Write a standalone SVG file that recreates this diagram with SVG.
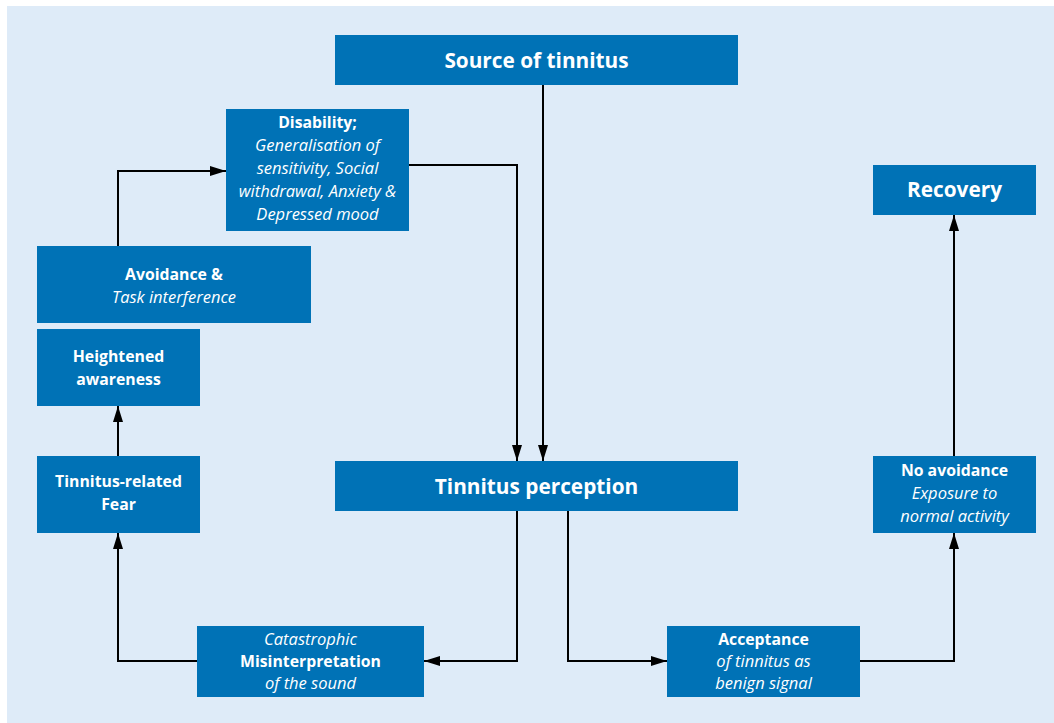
<svg xmlns="http://www.w3.org/2000/svg" width="1054" height="723" viewBox="0 0 1054 723">
<defs>
<style>
.box{fill:#0072B6;}
text{fill:#ffffff;font-family:"Open Sans","Liberation Sans",sans-serif;text-anchor:middle;}
.b{font-size:15.8px;font-weight:bold;}
.i{font-size:16.5px;font-style:italic;}
.big{font-size:20.8px;font-weight:bold;}
.c{fill:none;stroke:#000000;stroke-width:2;}
</style>
<marker id="ah" viewBox="0 0 16 10" refX="16" refY="5" markerWidth="16" markerHeight="10" markerUnits="userSpaceOnUse" orient="auto">
<path d="M0,0 L16,5 L0,10 Z" fill="#000000"/>
</marker>
</defs>
<rect x="7" y="6" width="1047" height="717" fill="#DEEBF8"/>
<g id="connectors">
<path class="c" d="M543,85 V461" marker-end="url(#ah)"/>
<path class="c" d="M409,165 H517 V461" marker-end="url(#ah)"/>
<path class="c" d="M517,511 V661 H424" marker-end="url(#ah)"/>
<path class="c" d="M568,511 V661 H667" marker-end="url(#ah)"/>
<path class="c" d="M197,661 H118 V533" marker-end="url(#ah)"/>
<path class="c" d="M118,456 V406" marker-end="url(#ah)"/>
<path class="c" d="M118,246 V171 H226" marker-end="url(#ah)"/>
<path class="c" d="M860,661 H954 V533" marker-end="url(#ah)"/>
<path class="c" d="M954,456 V215" marker-end="url(#ah)"/>
</g>
<g id="source">
<rect class="box" x="335" y="35" width="403" height="50"/>
<text class="big" x="536.5" y="68">Source of tinnitus</text>
</g>
<g id="disability">
<rect class="box" x="226" y="109" width="183" height="122"/>
<text class="b" x="317.5" y="128">Disability;</text>
<text class="i" x="317.5" y="151">Generalisation of</text>
<text class="i" x="317.5" y="174">sensitivity, Social</text>
<text class="i" x="317.5" y="197">withdrawal, Anxiety &amp;</text>
<text class="i" x="317.5" y="220">Depressed mood</text>
</g>
<g id="avoidance">
<rect class="box" x="37" y="246" width="274" height="77"/>
<text class="b" x="174" y="280">Avoidance &amp;</text>
<text class="i" x="174" y="303">Task interference</text>
</g>
<g id="heightened">
<rect class="box" x="37" y="329" width="163" height="77"/>
<text class="b" x="118.5" y="362">Heightened</text>
<text class="b" x="118.5" y="385">awareness</text>
</g>
<g id="fear">
<rect class="box" x="37" y="456" width="163" height="77"/>
<text class="b" x="118.5" y="487">Tinnitus-related</text>
<text class="b" x="118.5" y="510">Fear</text>
</g>
<g id="perception">
<rect class="box" x="335" y="461" width="403" height="50"/>
<text class="big" x="536.5" y="494">Tinnitus perception</text>
</g>
<g id="catastrophic">
<rect class="box" x="197" y="626" width="227" height="71"/>
<text class="i" x="310.5" y="645">Catastrophic</text>
<text class="b" x="310.5" y="667">Misinterpretation</text>
<text class="i" x="310.5" y="689">of the sound</text>
</g>
<g id="acceptance">
<rect class="box" x="667" y="626" width="193" height="71"/>
<text class="b" x="763.5" y="645">Acceptance</text>
<text class="i" x="763.5" y="667">of tinnitus as</text>
<text class="i" x="763.5" y="689">benign signal</text>
</g>
<g id="noavoidance">
<rect class="box" x="873" y="456" width="163" height="77"/>
<text class="b" x="954.5" y="476">No avoidance</text>
<text class="i" x="954.5" y="499">Exposure to</text>
<text class="i" x="954.5" y="522">normal activity</text>
</g>
<g id="recovery">
<rect class="box" x="873" y="165" width="163" height="50"/>
<text class="big" x="954.5" y="197">Recovery</text>
</g>
</svg>
